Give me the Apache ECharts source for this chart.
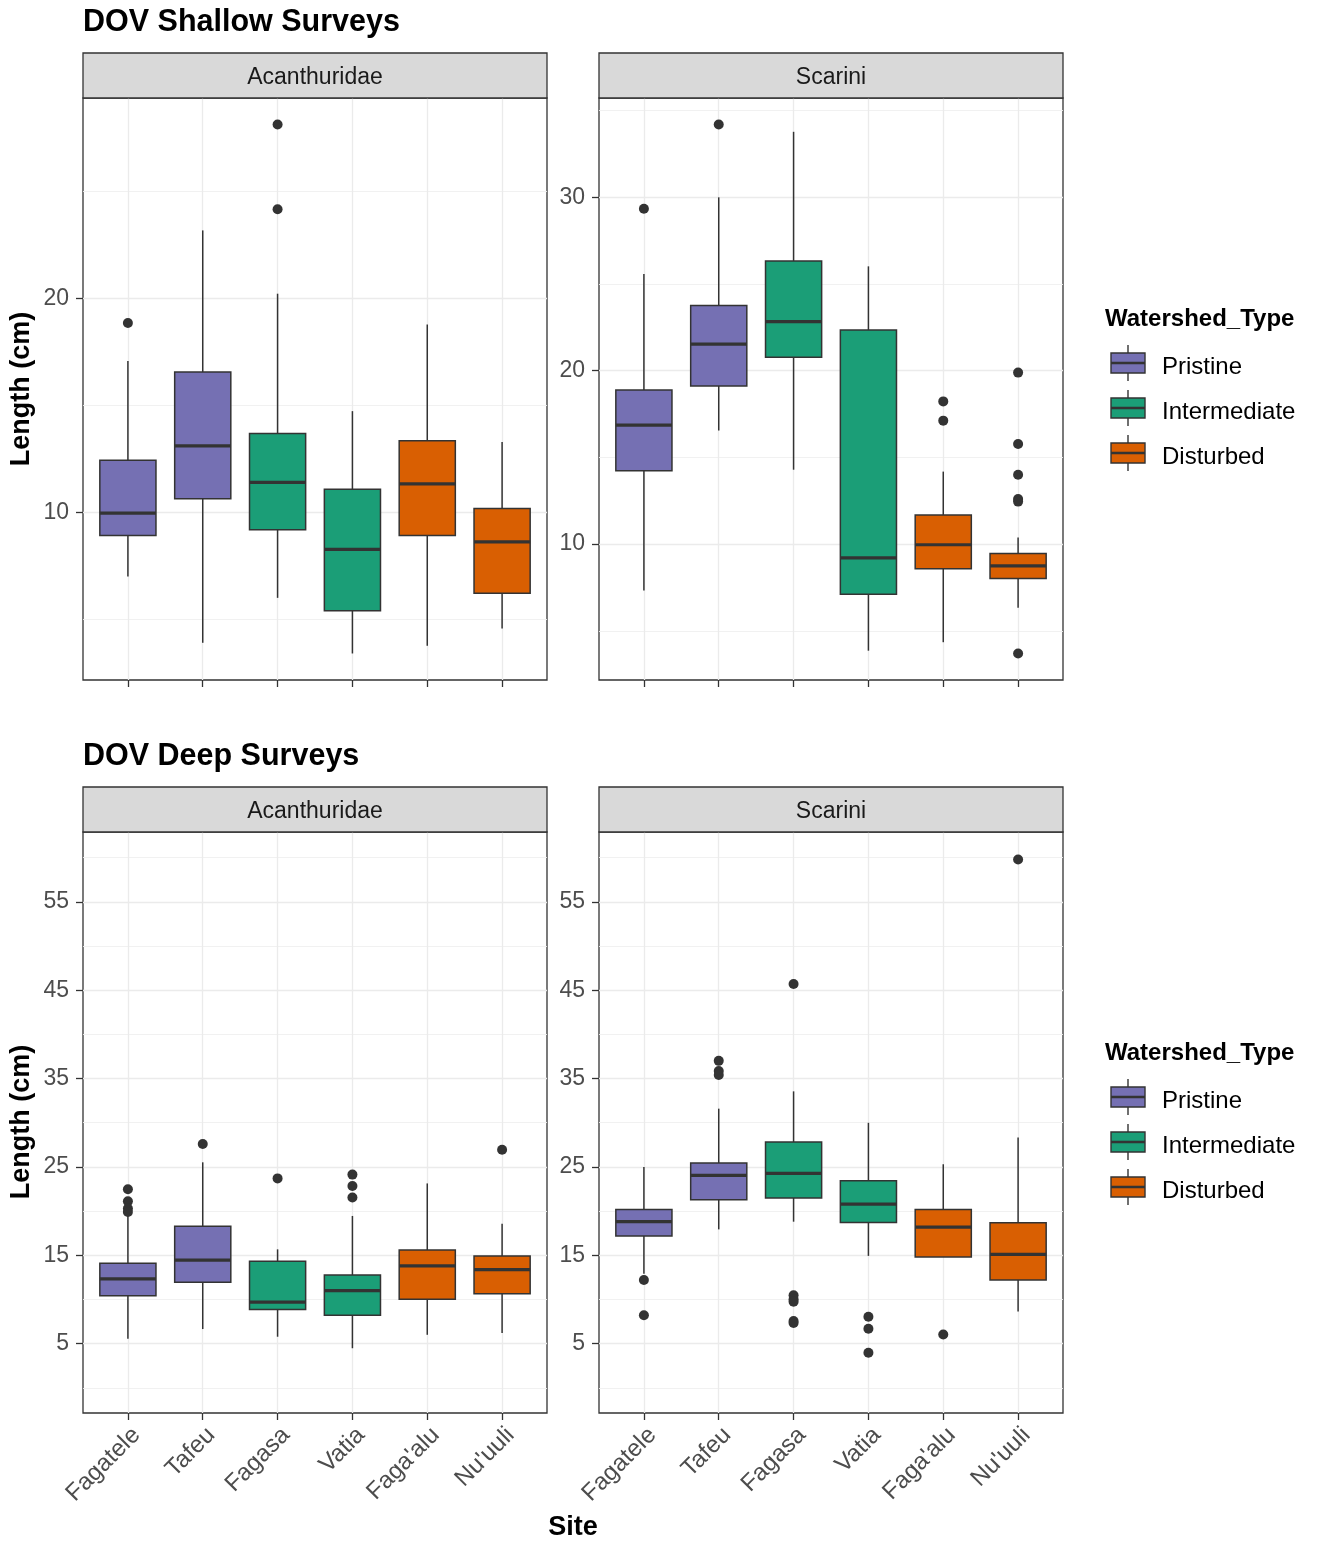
<!DOCTYPE html>
<html>
<head>
<meta charset="utf-8">
<script src="https://cdn.jsdelivr.net/npm/echarts@6/dist/echarts.min.js"></script>
<style>
  html, body { margin: 0; padding: 0; background: #fff; }
  #main { width: 1322px; height: 1543px; }
</style>
</head>
<body>
<div id="main"></div>
<script>
var sites = ['Fagatele', 'Tafeu', 'Fagasa', 'Vatia', "Faga'alu", "Nu'uuli"];
var siteType = [0, 0, 1, 1, 2, 2];
var types = ['Pristine', 'Intermediate', 'Disturbed'];

// one row per site: [lower whisker, Q1, median, Q3, upper whisker]
var shallowAcanBoxes = [
    [7.0, 8.92, 9.96, 12.43, 17.07],
    [3.9, 10.63, 13.11, 16.56, 23.18],
    [6.0, 9.19, 11.40, 13.69, 20.22],
    [3.4, 5.40, 8.27, 11.08, 14.73],
    [3.76, 8.92, 11.33, 13.35, 18.78],
    [4.57, 6.22, 8.62, 10.18, 13.29]
];
var shallowAcanOutliers = [['Fagatele', 18.85], ['Fagasa', 28.13], ['Fagasa', 24.17]];

var shallowScarBoxes = [
    [7.32, 14.23, 16.86, 18.89, 25.58],
    [16.55, 19.12, 21.53, 23.76, 30.0],
    [14.29, 20.77, 22.83, 26.33, 33.78],
    [3.85, 7.10, 9.20, 22.35, 26.02],
    [4.34, 8.58, 9.96, 11.68, 14.18],
    [6.33, 8.01, 8.74, 9.45, 10.38]
];
var shallowScarOutliers = [
    ['Fagatele', 29.34], ['Tafeu', 34.2], ["Faga'alu", 18.23], ["Faga'alu", 17.12],
    ["Nu'uuli", 19.89], ["Nu'uuli", 15.77], ["Nu'uuli", 14.0], ["Nu'uuli", 12.6],
    ["Nu'uuli", 12.45], ["Nu'uuli", 3.69]
];

var deepAcanBoxes = [
    [5.56, 10.42, 12.33, 14.11, 19.5],
    [6.65, 11.94, 14.46, 18.28, 25.52],
    [5.78, 8.86, 9.69, 14.33, 15.67],
    [4.48, 8.21, 10.99, 12.77, 19.45],
    [6.0, 10.03, 13.81, 15.59, 23.13],
    [6.21, 10.64, 13.37, 14.93, 18.58]
];
var deepAcanOutliers = [
    ['Fagatele', 22.48], ['Fagatele', 21.1], ['Fagatele', 20.3], ['Fagatele', 19.9],
    ['Tafeu', 27.6], ['Fagasa', 23.7], ['Vatia', 24.13], ['Vatia', 22.83], ['Vatia', 21.53],
    ["Nu'uuli", 26.95]
];

var deepScarBoxes = [
    [12.9, 17.19, 18.8, 20.18, 25.0],
    [17.93, 21.27, 24.05, 25.43, 31.59],
    [18.8, 21.49, 24.26, 27.82, 33.55],
    [14.93, 18.71, 20.79, 23.44, 29.99],
    [14.8, 14.8, 18.19, 20.18, 25.3],
    [8.64, 12.2, 15.11, 18.67, 28.34]
];
var deepScarOutliers = [
    ['Fagatele', 12.2], ['Fagatele', 8.21], ['Tafeu', 37.0], ['Tafeu', 35.85], ['Tafeu', 35.4],
    ['Fagasa', 45.69], ['Fagasa', 10.47], ['Fagasa', 10.03], ['Fagasa', 9.73], ['Fagasa', 7.56],
    ['Fagasa', 7.34], ['Vatia', 8.04], ['Vatia', 6.69], ['Vatia', 3.96], ["Faga'alu", 6.04],
    ["Nu'uuli", 59.79]
];

var shallowAcanTicks = [10, 20];
var shallowAcanMinor = [5, 15, 25];
var shallowScarTicks = [10, 20, 30];
var shallowScarMinor = [5, 15, 25, 35];
var deepTicks = [5, 15, 25, 35, 45, 55];
var deepMinor = [0, 10, 20, 30, 40, 50, 60];
var sitePos = [1, 2, 3, 4, 5, 6];

var typeColors = ['#7570B3', '#1B9E77', '#D95F02'];
var FONT = '"Liberation Sans", Arial, Helvetica, sans-serif';
var INK = '#333333';

var panels = [
    { left: 83, top: 98, height: 582, min: 2.16, max: 29.37, ticks: shallowAcanTicks, minor: shallowAcanMinor,
      boxes: shallowAcanBoxes, outliers: shallowAcanOutliers, strip: 'Acanthuridae', labels: false },
    { left: 599, top: 98, height: 582, min: 2.16, max: 35.73, ticks: shallowScarTicks, minor: shallowScarMinor,
      boxes: shallowScarBoxes, outliers: shallowScarOutliers, strip: 'Scarini', labels: false },
    { left: 83, top: 832, height: 581, min: -2.85, max: 62.9, ticks: deepTicks, minor: deepMinor,
      boxes: deepAcanBoxes, outliers: deepAcanOutliers, strip: 'Acanthuridae', labels: true },
    { left: 599, top: 832, height: 581, min: -2.85, max: 62.9, ticks: deepTicks, minor: deepMinor,
      boxes: deepScarBoxes, outliers: deepScarOutliers, strip: 'Scarini', labels: true }
];
var PANEL_W = 464;

function renderBox(params, api) {
    var x = api.value(0);
    var lo = api.coord([x, api.value(1)]);
    var q1 = api.coord([x, api.value(2)]);
    var md = api.coord([x, api.value(3)]);
    var q3 = api.coord([x, api.value(4)]);
    var hi = api.coord([x, api.value(5)]);
    var half = api.size([0.75, 0])[0] / 2;
    var line = { stroke: INK, lineWidth: 1.5 };
    return {
        type: 'group',
        children: [
            { type: 'line', shape: { x1: lo[0], y1: lo[1], x2: q1[0], y2: q1[1] }, style: line },
            { type: 'line', shape: { x1: q3[0], y1: q3[1], x2: hi[0], y2: hi[1] }, style: line },
            { type: 'rect', shape: { x: q3[0] - half, y: q3[1], width: half * 2, height: q1[1] - q3[1] },
              style: { fill: typeColors[api.value(6)], stroke: INK, lineWidth: 1.5 } },
            { type: 'line', shape: { x1: md[0] - half, y1: md[1], x2: md[0] + half, y2: md[1] },
              style: { stroke: INK, lineWidth: 3.2 } }
        ]
    };
}

var grids = [], xAxes = [], yAxes = [], series = [], graphics = [];

panels.forEach(function (p, k) {
    grids.push({ left: p.left, top: p.top, width: PANEL_W, height: p.height, containLabel: false,
        show: true, backgroundColor: '#fff', borderColor: INK, borderWidth: 1.3, z: 0 });

    xAxes.push({
        type: 'value', gridIndex: k, min: 0.4, max: 6.6, position: 'bottom',
        axisLine: { show: false, onZero: false },
        axisTick: { show: true, customValues: sitePos, length: 7, lineStyle: { color: INK, width: 1.3 } },
        splitLine: { show: true, lineStyle: { color: '#EBEBEB', width: 1.3 } },
        axisLabel: {
            show: p.labels, customValues: sitePos, rotate: 45, align: 'right', verticalAlign: 'top',
            margin: 10, color: '#4D4D4D', fontSize: 24, fontFamily: FONT,
            formatter: function (v) { return sites[Math.round(v) - 1] || ''; }
        }
    });

    yAxes.push({
        type: 'value', gridIndex: k, min: p.min, max: p.max,
        axisLine: { show: false, onZero: false },
        axisTick: { show: true, customValues: p.ticks, length: 7, lineStyle: { color: INK, width: 1.3 } },
        axisLabel: { customValues: p.ticks, margin: 14, color: '#4D4D4D', fontSize: 23, fontFamily: FONT },
        splitLine: { show: true, lineStyle: { color: '#EBEBEB', width: 1.3 } }
    });
    // minor grid lines only
    yAxes.push({
        type: 'value', gridIndex: k, min: p.min, max: p.max,
        axisLine: { show: false, onZero: false },
        axisTick: { show: false, customValues: p.minor },
        axisLabel: { show: false },
        splitLine: { show: true, lineStyle: { color: '#EFEFEF', width: 0.9 } }
    });

    series.push({
        type: 'custom', xAxisIndex: k, yAxisIndex: k * 2,
        renderItem: renderBox,
        dimensions: ['x', 'lo', 'q1', 'med', 'q3', 'hi', 'type'],
        encode: { x: 0, y: [1, 2, 3, 4, 5] },
        data: p.boxes.map(function (b, i) {
            return [i + 1, b[0], b[1], b[2], b[3], b[4], siteType[i]];
        }),
        z: 3
    });
    series.push({
        type: 'scatter', xAxisIndex: k, yAxisIndex: k * 2,
        symbol: 'circle', symbolSize: 10,
        itemStyle: { color: INK, opacity: 1 },
        data: p.outliers.map(function (o) { return [sites.indexOf(o[0]) + 1, o[1]]; }),
        z: 4
    });

    // facet strip
    graphics.push({ type: 'rect', shape: { x: p.left, y: p.top - 45, width: PANEL_W, height: 45 },
        style: { fill: '#D9D9D9', stroke: INK, lineWidth: 1.3 }, z: 10 });
    graphics.push({ type: 'text', x: p.left + PANEL_W / 2, y: p.top - 20, z: 11,
        style: { text: p.strip, align: 'center', verticalAlign: 'middle', fill: '#1A1A1A',
                 fontSize: 23, fontFamily: FONT } });
});

function addText(txt, x, y, size, opts) {
    opts = opts || {};
    graphics.push({ type: 'text', x: x, y: y, rotation: opts.rotation || 0, z: 11,
        style: { text: txt, align: opts.align || 'left', verticalAlign: 'middle', fill: '#000',
                 fontSize: size, fontWeight: opts.weight || 'normal', fontFamily: FONT } });
}

addText('DOV Shallow Surveys', 83, 23, 30.5, { weight: 'bold' });
addText('DOV Deep Surveys', 83, 757, 30.5, { weight: 'bold' });
addText('Length (cm)', 22, 389, 27, { weight: 'bold', align: 'center', rotation: Math.PI / 2 });
addText('Length (cm)', 22, 1122, 27, { weight: 'bold', align: 'center', rotation: Math.PI / 2 });
addText('Site', 573, 1528, 27, { weight: 'bold', align: 'center' });

function addLegend(top) {
    addText('Watershed_Type', 1105, top, 24, { weight: 'bold' });
    types.forEach(function (t, i) {
        var cy = top + 44 + i * 45;
        graphics.push({ type: 'line', shape: { x1: 1128, y1: cy - 18, x2: 1128, y2: cy + 18 },
            style: { stroke: INK, lineWidth: 1.4 }, z: 10 });
        graphics.push({ type: 'rect', shape: { x: 1111, y: cy - 10, width: 34, height: 20 },
            style: { fill: typeColors[i], stroke: INK, lineWidth: 1.4 }, z: 11 });
        graphics.push({ type: 'line', shape: { x1: 1111, y1: cy, x2: 1145, y2: cy },
            style: { stroke: INK, lineWidth: 2.4 }, z: 12 });
        addText(t, 1162, cy + 4, 24);
    });
}
addLegend(319);
addLegend(1053);

var chart = echarts.init(document.getElementById('main'), null, { renderer: 'canvas' });
chart.setOption({
    backgroundColor: '#fff',
    animation: false,
    grid: grids,
    xAxis: xAxes,
    yAxis: yAxes,
    series: series,
    graphic: graphics
});
</script>
</body>
</html>
